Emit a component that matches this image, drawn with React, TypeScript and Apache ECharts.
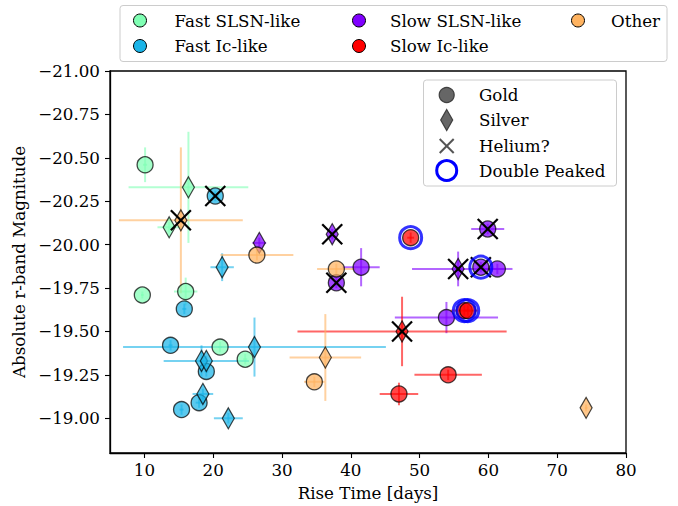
import React, { useEffect, useRef } from "react";
import * as echarts from "echarts";

const FONT = "DejaVu Serif";
const FS = 16.7;

// [x, y, xErr, yErr]
const fastSLSNGold = [
  [10.1, -20.46, 0.3, 0.1],
  [9.7, -19.71, 0.2, 0.02],
  [16.0, -19.73, 1.7, 0.08],
  [21.0, -19.41, 0.3, 0.03],
  [24.65, -19.34, 0.3, 0.03],
];
const fastSLSNSilver = [
  [16.4, -20.33, 8.7, 0.32],
  [13.6, -20.1, 1.7, 0.03],
];
const fastIcGold = [
  [20.3, -20.28, 0.5, 0.03],
  [15.8, -19.63, 0.3, 0.03],
  [13.8, -19.42, 0.3, 0.03],
  [19.0, -19.27, 0.3, 0.03],
  [17.95, -19.09, 0.5, 0.03],
  [15.4, -19.05, 0.3, 0.03],
];
const fastIcSilver = [
  [21.3, -19.87, 1.7, 0.08],
  [26.0, -19.41, 19.1, 0.17],
  [18.3, -19.33, 0.3, 0.09],
  [19.0, -19.33, 6.2, 0.03],
  [18.5, -19.14, 1.5, 0.03],
  [22.2, -19.0, 2.1, 0.03],
];
const slowSLSNGold = [
  [41.5, -19.87, 2.7, 0.11],
  [37.9, -19.78, 0.3, 0.03],
  [58.9, -19.87, 0.5, 0.03],
  [61.3, -19.86, 2.2, 0.03],
  [59.9, -20.09, 2.4, 0.03],
  [53.9, -19.58, 7.5, 0.09],
];
const slowSLSNSilver = [
  [26.7, -20.01, 1.0, 0.03],
  [37.3, -20.06, 0.3, 0.03],
  [55.6, -19.86, 6.7, 0.1],
];
const slowIcGold = [
  [48.7, -20.04, 0.5, 0.03],
  [56.5, -19.62, 2.0, 0.03],
  [57.0, -19.62, 0.5, 0.03],
  [54.15, -19.25, 4.9, 0.03],
  [47.0, -19.14, 2.8, 0.065],
];
const slowIcSilver = [[47.45, -19.5, 15.2, 0.2]];
const otherGold = [
  [26.35, -19.94, 5.3, 0.03],
  [37.9, -19.86, 2.8, 0.03],
  [34.7, -19.21, 1.5, 0.03],
];
const otherSilver = [
  [15.3, -20.14, 9.0, 0.42],
  [36.3, -19.35, 5.2, 0.25],
  [74.2, -19.06, 0.2, 0.02],
];
const heliumPoints = [
  [20.3, -20.28],
  [15.3, -20.14],
  [37.3, -20.06],
  [37.9, -19.78],
  [55.6, -19.86],
  [58.9, -19.87],
  [59.9, -20.09],
  [47.45, -19.5],
];
const doublePeakedPoints = [
  [48.7, -20.04],
  [58.9, -19.87],
  [56.5, -19.62],
  [57.0, -19.62],
];

const xTicks = [10, 20, 30, 40, 50, 60, 70, 80];
const yTicks = [-21, -20.75, -20.5, -20.25, -20, -19.75, -19.5, -19.25, -19];

const classNames = ["Fast SLSN-like", "Fast Ic-like", "Slow SLSN-like", "Slow Ic-like", "Other"];
const classColors = ["#80ffb4", "#1ab4e8", "#8000ff", "#ff0000", "#ffb360"];
const markerNames = ["Gold", "Silver", "Helium?", "Double Peaked"];

const groups = [
  { gold: fastSLSNGold, silver: fastSLSNSilver },
  { gold: fastIcGold, silver: fastIcSilver },
  { gold: slowSLSNGold, silver: slowSLSNSilver },
  { gold: slowIcGold, silver: slowIcSilver },
  { gold: otherGold, silver: otherSilver },
];

function fmt(v: number) {
  return (v < 0 ? "\u2212" : "") + Math.abs(v).toFixed(2);
}

function errSeries(name: string, data: number[][], color: string) {
  return {
    type: "custom",
    name,
    data,
    encode: { x: 0, y: 1 },
    z: 1,
    silent: true,
    renderItem: (params: any, api: any) => {
      const x = api.value(0);
      const y = api.value(1);
      const xe = api.value(2);
      const ye = api.value(3);
      const a = api.coord([x - xe, y]);
      const b = api.coord([x + xe, y]);
      const c = api.coord([x, y - ye]);
      const d = api.coord([x, y + ye]);
      const st = { stroke: color, lineWidth: 2, opacity: 0.6 };
      return {
        type: "group",
        children: [
          { type: "line", shape: { x1: a[0], y1: a[1], x2: b[0], y2: b[1] }, style: st },
          { type: "line", shape: { x1: c[0], y1: c[1], x2: d[0], y2: d[1] }, style: st },
        ],
      };
    },
  };
}

function buildOption() {
  const series: any[] = [];
  groups.forEach((g, i) => {
    series.push(errSeries(classNames[i] + " err", [...g.gold, ...g.silver], classColors[i]));
  });
  groups.forEach((g, i) => {
    series.push({
      type: "scatter",
      name: classNames[i],
      data: g.gold,
      symbol: "circle",
      symbolSize: 16,
      z: 2,
      itemStyle: { color: classColors[i], opacity: 0.72, borderColor: "#000", borderWidth: 1.3 },
    });
    series.push({
      type: "scatter",
      name: classNames[i] + " silver",
      data: g.silver,
      symbol: "diamond",
      symbolSize: [12, 21],
      z: 2,
      itemStyle: { color: classColors[i], opacity: 0.72, borderColor: "#000", borderWidth: 1.3 },
    });
  });
  series.push({
    type: "custom",
    name: "Helium?",
    data: heliumPoints,
    encode: { x: 0, y: 1 },
    z: 3,
    silent: true,
    renderItem: (params: any, api: any) => {
      const p = api.coord([api.value(0), api.value(1)]);
      const s = 10;
      const st = { stroke: "#000", lineWidth: 2.2 };
      return {
        type: "group",
        children: [
          { type: "line", shape: { x1: p[0] - s, y1: p[1] - s, x2: p[0] + s, y2: p[1] + s }, style: st },
          { type: "line", shape: { x1: p[0] - s, y1: p[1] + s, x2: p[0] + s, y2: p[1] - s }, style: st },
        ],
      };
    },
  });
  series.push({
    type: "scatter",
    name: "Double Peaked",
    data: doublePeakedPoints,
    symbol: "circle",
    symbolSize: 22,
    z: 4,
    itemStyle: { color: "rgba(0,0,0,0)", borderColor: "#0000ff", borderWidth: 3 },
  });

  const textStyle = { fontFamily: FONT, fontSize: FS, fill: "#000" };
  const graphic: any[] = [];
  // top legend
  graphic.push({
    type: "rect",
    shape: { x: 120, y: 5.5, width: 547, height: 56, r: 3 },
    style: { fill: "rgba(255,255,255,0.8)", stroke: "#cccccc", lineWidth: 1 },
    z: 10,
  });
  const topPos = [
    [140, 20.5, 174.5],
    [140, 46, 174.5],
    [359, 20.5, 390],
    [359, 46, 390],
    [578, 20.5, 611],
  ];
  classNames.forEach((n, i) => {
    const [cx, cy, tx] = topPos[i];
    graphic.push({
      type: "circle",
      shape: { cx, cy, r: 6.5 },
      style: { fill: classColors[i], stroke: "#000", lineWidth: 1 },
      z: 11,
    });
    graphic.push({
      type: "text",
      x: tx,
      y: cy,
      style: { ...textStyle, text: n, verticalAlign: "middle", align: "left" },
      z: 11,
    });
  });
  // marker legend
  graphic.push({
    type: "rect",
    shape: { x: 423.5, y: 80, width: 193, height: 106, r: 3 },
    style: { fill: "rgba(255,255,255,0.8)", stroke: "#cccccc", lineWidth: 1 },
    z: 10,
  });
  const mx = 446.7;
  const rows = [95, 120, 146, 170.5];
  graphic.push({
    type: "circle",
    shape: { cx: mx, cy: rows[0], r: 7.5 },
    style: { fill: "#555555", stroke: "#333333", lineWidth: 1.2, opacity: 0.9 },
    z: 11,
  });
  graphic.push({
    type: "polygon",
    shape: { points: [[mx, rows[1] - 10.5], [mx + 6, rows[1]], [mx, rows[1] + 10.5], [mx - 6, rows[1]]] },
    style: { fill: "#555555", stroke: "#333333", lineWidth: 1.2, opacity: 0.9 },
    z: 11,
  });
  graphic.push({
    type: "line",
    shape: { x1: mx - 7, y1: rows[2] - 7, x2: mx + 7, y2: rows[2] + 7 },
    style: { stroke: "#555555", lineWidth: 2 },
    z: 11,
  });
  graphic.push({
    type: "line",
    shape: { x1: mx - 7, y1: rows[2] + 7, x2: mx + 7, y2: rows[2] - 7 },
    style: { stroke: "#555555", lineWidth: 2 },
    z: 11,
  });
  graphic.push({
    type: "circle",
    shape: { cx: mx, cy: rows[3], r: 10 },
    style: { fill: "none", stroke: "#0000ff", lineWidth: 3 },
    z: 11,
  });
  markerNames.forEach((n, i) => {
    graphic.push({
      type: "text",
      x: 479,
      y: rows[i],
      style: { ...textStyle, text: n, verticalAlign: "middle", align: "left" },
      z: 11,
    });
  });

  return {
    animation: false,
    textStyle: { fontFamily: FONT },
    grid: {
      left: 110,
      top: 71,
      width: 516,
      height: 383,
      show: true,
      borderColor: "#000",
      borderWidth: 1.3,
      backgroundColor: "transparent",
    },
    xAxis: {
      type: "value",
      min: 5,
      max: 80,
      name: "Rise Time [days]",
      nameLocation: "middle",
      nameGap: 31,
      nameTextStyle: { fontFamily: FONT, fontSize: FS, color: "#000" },
      axisLine: { show: true, lineStyle: { color: "#000", width: 1.3 } },
      axisTick: { show: true, inside: false, length: 5, customValues: xTicks, lineStyle: { color: "#000", width: 1.1 } },
      axisLabel: { customValues: xTicks, margin: 8, fontFamily: FONT, fontSize: FS, color: "#000" },
      splitLine: { show: false },
    },
    yAxis: {
      type: "value",
      min: -21,
      max: -18.8,
      inverse: true,
      name: "Absolute r-band Magnitude",
      nameLocation: "middle",
      nameGap: 80,
      nameTextStyle: { fontFamily: FONT, fontSize: FS, color: "#000" },
      axisLine: { show: true, lineStyle: { color: "#000", width: 1.3 } },
      axisTick: { show: true, inside: false, length: 5, customValues: yTicks, lineStyle: { color: "#000", width: 1.1 } },
      axisLabel: { customValues: yTicks, margin: 10, fontFamily: FONT, fontSize: FS, color: "#000", formatter: fmt },
      splitLine: { show: false },
    },
    series,
    graphic,
  };
}

export default function App() {
  const ref = useRef<HTMLDivElement>(null);
  useEffect(() => {
    if (!ref.current) return;
    const chart = echarts.init(ref.current, null, { renderer: "svg" });
    chart.setOption(buildOption() as any);
    return () => chart.dispose();
  }, []);
  return <div ref={ref} style={{ width: 678, height: 506, position: "absolute", left: 0, top: 0 }} />;
}
